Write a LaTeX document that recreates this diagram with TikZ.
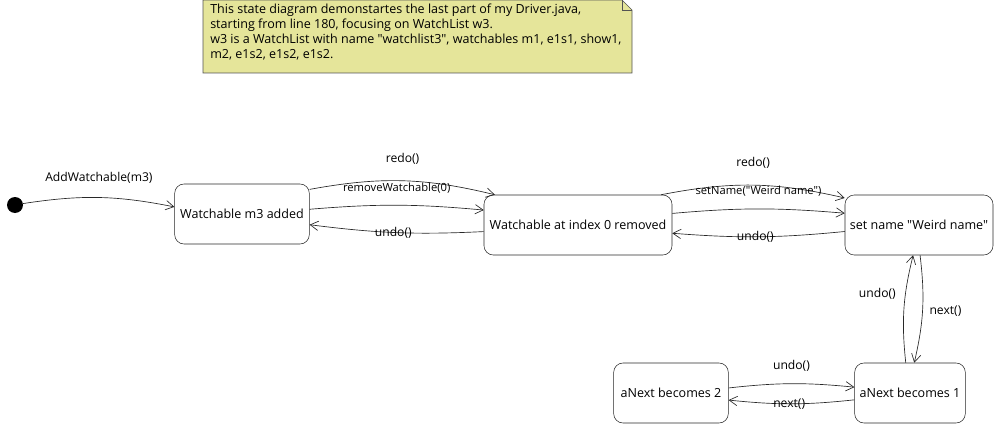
\documentclass[tikz,border=0pt]{standalone}
\usepackage{fontspec}
\setmainfont{Open Sans}[Ligatures=TeXOff]
\usepackage{tikz}
\usetikzlibrary{calc,arrows.meta}

\definecolor{notefill}{RGB}{229,229,154}
\definecolor{lineclr}{RGB}{40,40,40}

\tikzset{
  state/.style={draw=lineclr,fill=white,rounded corners=7pt,minimum width=#1,minimum height=45pt,font=\fontsize{9.4}{11}\selectfont},
  state/.default=100pt,
  trans/.style={draw=lineclr,line width=0.5pt,-{Straight Barb[length=6pt,width=7pt]}},
  lbl/.style={font=\fontsize{9.1}{11}\selectfont,inner sep=1pt},
  smlbl/.style={font=\fontsize{8.4}{10}\selectfont,inner sep=1pt}
}

\begin{document}
\begin{tikzpicture}[x=0.75pt,y=-0.75pt]
  \useasboundingbox (0,0) rectangle (997,428);
  % note
  \draw[draw=lineclr!80,fill=notefill] (203,0) -- (622,0) -- (632,10) -- (632,73) -- (203,73) -- cycle;
  \draw[draw=lineclr!80] (622,0) -- (622,10) -- (632,10);
  \node[anchor=north west,align=left,inner sep=0pt,font=\fontsize{9.4}{11.25}\selectfont] (note) at (210,4)
    {This state diagram demonstartes the last part of my Driver.java,\\
     starting from line 180, focusing on WatchList w3.\\
     w3 is a WatchList with name "watchlist3", watchables m1, e1s1, show1,\\
     m2, e1s2, e1s2, e1s2.};

  % states
  \fill[black] (15,205) circle (8);
  \node[circle,inner sep=0pt,minimum size=12pt] (init) at (15,205) {};
  \node[state=101pt] (added) at (242,214) {Watchable m3 added};
  \node[state=141pt] (removed) at (578,225) {Watchable at index 0 removed};
  \node[state=111pt] (weird) at (919,225) {set name "Weird name"};
  \node[state=86pt] (two) at (671,393) {aNext becomes 2};
  \node[state=83pt] (one) at (910,393) {aNext becomes 1};

  % transitions
  \draw[trans] (init.10) to[bend left=10] node[lbl,above=9pt,pos=0.5] {AddWatchable(m3)} (added.174);

  \draw[trans] (added.20) to[bend left=12] node[lbl,above=11pt] {redo()} (removed.160);
  \draw[trans] (added.4) to[bend left=5] node[smlbl,above=8pt] {removeWatchable(0)} (removed.171);
  \draw[trans] (removed.184) to[bend left=5] node[lbl,pos=0.52] {undo()} (added.351);

  \draw[trans] (removed.20) to[bend left=12] node[lbl,above=11pt] {redo()} (weird.160);
  \draw[trans] (removed.7) to[bend left=5] node[smlbl,above=8pt] {setName("Weird name")} (weird.171);
  \draw[trans] (weird.185) to[bend left=5] node[lbl,pos=0.52] {undo()} (removed.355);

  \draw[trans] (one.98) to[bend left=10] node[lbl,left=6pt,pos=0.65] {undo()} (weird.259);
  \draw[trans] (weird.272) to[bend left=10] node[lbl,right=4pt,pos=0.52] {next()} (one.82);

  \draw[trans] (two.5) to[bend left=6] node[lbl,above=8pt] {undo()} (one.174);
  \draw[trans] (one.187) to[bend left=6] node[lbl,pos=0.52] {next()} (two.353);
\end{tikzpicture}
\end{document}
